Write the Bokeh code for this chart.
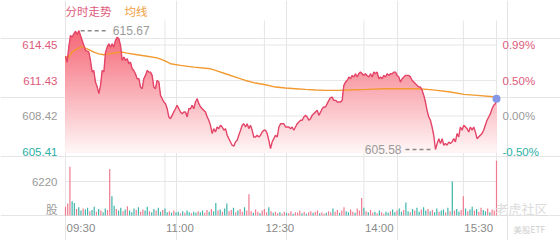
import numpy as np
from bokeh.plotting import figure
from bokeh.models import Range1d
from bokeh.embed import file_html
from bokeh.resources import INLINE
from bokeh.core.properties import value

# ---------------- data ----------------
title_text = "分时走势"
avg_label = "均线"
price_ticks = [614.45, 611.43, 608.42, 605.41]
pct_labels = ["0.99%", "0.50%", "0.00%", "-0.50%"]
tick_side = ["up", "up", "flat", "down"]
vol_ticks = [6220]
vol_unit = "股"
time_ticks = [0, 90, 180, 270, 360]
time_labels = ["09:30", "11:00", "12:30", "14:00", "15:30"]
session_end = 390
high_price = 615.67
low_price = 605.58
watermark = "老虎社区"
watermark_sub = "美股ETF"

price_min = [
    0.0, 1.5, 3.0, 4.5, 6.0, 7.5, 9.1, 10.6, 12.1, 13.6,
    15.1, 16.6, 18.1, 19.6, 21.1, 22.6, 24.1, 25.6, 27.1, 28.7,
    30.2, 31.7, 33.2, 34.7, 36.2, 37.7, 39.2, 40.7, 42.2, 43.7,
    45.2, 46.7, 48.3, 49.8, 51.3, 52.8, 54.3, 55.8, 57.3, 58.8,
    60.3, 61.8, 63.3, 64.8, 66.4, 67.9, 69.4, 70.9, 72.4, 73.9,
    75.4, 76.9, 78.4, 79.9, 81.4, 82.9, 84.5, 86.0, 87.5, 89.0,
    90.5, 92.0, 93.5, 95.0, 96.5, 98.0, 99.5, 101.0, 102.6, 104.1,
    105.6, 107.1, 108.6, 110.1, 111.6, 113.1, 114.6, 116.1, 117.6, 119.1,
    120.7, 122.2, 123.7, 125.2, 126.7, 128.2, 129.7, 131.2,
    132.7, 134.2, 135.7, 137.2, 138.7, 140.3, 141.8, 143.3, 144.8, 146.3,
    147.8, 149.3, 150.8, 152.3, 153.8, 155.3, 156.8, 158.4, 159.9, 161.4,
    162.9, 164.4, 165.9, 167.4, 168.9, 170.4, 171.9, 173.4, 175.0, 176.5,
    178.0, 179.5, 181.0, 182.5, 184.0, 185.5, 187.0, 188.5, 190.0, 191.6,
    193.1, 194.6, 196.1, 197.6, 199.1, 200.6, 202.1, 203.6, 205.1, 206.6,
    208.1, 209.7, 211.2, 212.7, 214.2, 215.7, 217.2, 218.7, 220.2, 221.7,
    223.2, 224.7, 226.2, 227.8, 229.3, 230.8, 232.3, 233.8, 235.3, 236.8,
    238.3, 239.8, 241.3, 242.8, 244.4, 245.9, 247.4, 248.9, 250.4, 251.3,
    251.9, 253.4, 254.9, 256.4, 257.9,
    259.4, 260.9, 262.4, 263.9, 265.4, 266.9, 268.4, 269.9, 271.4, 272.9,
    274.5, 276.0, 277.5, 279.0, 280.5, 282.0, 283.5, 285.0, 286.5, 288.0,
    289.5, 291.0, 292.6, 294.1, 295.6, 297.1, 298.6, 300.1, 301.6, 303.1,
    304.6, 306.1, 307.6, 309.1, 310.6, 312.2, 313.7, 315.2, 316.7, 318.2,
    319.7, 321.2, 322.7, 324.2, 325.7, 327.2, 328.7, 330.2, 331.7, 333.2,
    334.8, 336.3, 337.8, 339.3, 340.8, 342.3, 343.8, 345.3, 346.8, 348.3,
    349.8, 351.3, 352.8, 354.3, 355.8, 357.3, 358.9, 360.4, 361.9, 363.4,
    364.9, 366.4, 367.9, 369.4, 370.9, 372.4, 373.9, 375.4, 376.9, 378.4,
    379.9, 381.4, 383.0, 384.5, 386.0, 387.5, 389.0, 390.0,
]
price_val = [
    613.50, 612.99, 614.27, 615.26, 615.11, 615.40, 615.62, 615.34, 615.67, 615.26,
    614.83, 614.41, 613.99, 613.93, 613.84, 613.14, 612.15, 612.29, 611.30, 610.88,
    610.32, 611.02, 612.29, 612.15, 613.84, 614.27, 614.55, 614.27, 614.55, 614.27,
    614.83, 615.11, 614.97, 614.41, 613.14, 613.42, 613.14, 613.28, 612.86, 613.00,
    612.43, 612.29, 612.01, 611.59, 611.59, 610.88, 610.74, 611.59, 611.87, 612.29,
    612.15, 612.15, 611.87, 610.88, 610.74, 611.44, 611.30, 610.17, 609.89, 609.61,
    609.47, 609.04, 608.34, 608.20, 608.48, 608.76, 609.04, 609.33, 609.04, 608.76,
    608.62, 608.76, 608.76, 608.34, 609.04, 609.04, 609.33, 609.04, 609.61, 609.89,
    609.47, 609.19, 609.04, 608.90, 608.76, 608.34, 608.06, 607.63,
    606.93, 607.35, 607.07, 607.49, 607.35, 607.63, 607.49, 607.21, 607.35, 606.79,
    606.50, 606.22, 605.94, 605.86, 606.22, 606.36, 606.79, 607.21, 607.63, 607.77,
    607.49, 607.77, 607.35, 607.63, 607.21, 606.64, 606.64, 606.79, 606.64, 606.79,
    607.07, 607.21, 607.21, 606.93, 606.36, 605.66, 606.22, 606.50, 606.79, 606.64,
    607.49, 607.77, 607.77, 607.77, 607.49, 607.49, 607.49, 607.35, 607.49, 607.21,
    607.49, 607.77, 607.92, 608.06, 608.06, 608.34, 608.48, 608.34, 608.06, 608.20,
    608.48, 608.62, 608.76, 608.90, 608.48, 608.76, 609.04, 609.19, 609.19, 609.47,
    609.75, 609.98, 610.03, 609.75, 609.75, 609.61, 609.61, 609.61, 609.75, 610.60,
    611.02, 611.30, 611.44, 611.73, 611.59,
    611.87, 611.73, 612.01, 611.73, 612.01, 612.15, 612.01, 611.87, 612.01, 611.87,
    611.73, 612.01, 611.73, 612.15, 612.01, 612.15, 611.59, 611.73, 611.59, 611.87,
    611.73, 612.01, 611.87, 612.01, 612.01, 612.15, 612.15, 611.87, 611.73, 611.30,
    611.59, 611.73, 611.87, 611.87, 611.87, 611.73, 611.44, 611.30, 611.16, 611.02,
    610.88, 610.88, 610.60, 610.17, 609.61, 608.90, 608.34, 608.06, 607.49, 606.79,
    605.58, 606.08, 606.50, 606.08, 606.50, 605.94, 606.08, 605.94, 606.22, 606.08,
    606.22, 606.50, 606.22, 606.93, 606.64, 607.49, 607.21, 607.63, 607.49, 607.35,
    607.07, 607.49, 607.21, 607.49, 607.07, 606.50, 606.64, 606.79, 606.93, 607.21,
    607.63, 608.06, 608.34, 608.62, 609.04, 609.33, 609.47, 609.89,
]

avg_min = [0, 2.1, 6.0, 10.6, 15.1, 19.6, 25.6, 30.2, 34.7, 39.2,
           45.2, 51.3, 55.8, 64.8, 73.9, 82.9, 89.0, 95.0, 104.1, 116.1,
           131.2, 135.7, 144.8, 153.8, 162.9, 171.9, 181.0, 190.0, 199.1, 208.1,
           217.2, 226.2, 235.3, 247.4, 262.4, 272.9, 288.0, 303.1, 318.2, 327.2,
           336.3, 348.3, 360.4, 372.4, 390.0]
avg_val = [613.50, 613.28, 613.84, 614.13, 614.32, 614.13, 613.84, 613.70, 613.62, 613.70,
           613.79, 613.84, 613.76, 613.62, 613.50, 613.36, 613.14, 612.86, 612.72, 612.57,
           612.43, 612.29, 612.01, 611.73, 611.44, 611.22, 611.08, 610.88, 610.80, 610.74,
           610.68, 610.63, 610.60, 610.60, 610.65, 610.68, 610.74, 610.74, 610.74, 610.68,
           610.60, 610.46, 610.26, 610.17, 610.03]

vol_min = list(range(0, 391, 2))
vol_val = [
    1600, 2200, 8900, 2600, 2300, 1200, 1500, 900, 1300, 1100,
    1400, 800, 1000, 1600, 700, 1200, 900, 600, 1300, 1000,
    8500, 3500, 1800, 1200, 900, 1400, 800, 1100, 1700, 900,
    600, 1300, 1000, 1500, 700, 1100, 900, 1600, 800, 600,
    1200, 900, 1400, 700, 1000, 1300, 600, 800, 500, 900,
    600, 700, 400, 800, 500, 900, 600, 400, 700, 500,
    800, 600, 900, 500, 1000, 700, 1200, 800, 2300, 900,
    1100, 700, 1300, 2200, 800, 1000, 1400, 600, 900, 1200,
    700, 1500, 900, 3900, 800, 500, 1100, 700, 400, 900,
    1200, 600, 1500, 800, 500, 700, 400, 600, 300, 700,
    500, 400, 800, 300, 600, 500, 900, 400, 700, 300,
    600, 800, 500, 700, 900, 400, 600, 300, 500, 800,
    600, 1300, 700, 1000, 500, 900, 1500, 800, 600, 1100,
    700, 500, 1300, 900, 3200, 1400, 800, 600, 1000, 500,
    700, 400, 900, 600, 300, 700, 500, 800, 1100, 600,
    900, 1300, 700, 1000, 2400, 800, 600, 1200, 900, 1400,
    700, 1100, 1500, 900, 1200, 800, 1000, 600, 1300, 700,
    900, 1100, 600, 1400, 800, 6200, 900, 1200, 700, 1000,
    3500, 1300, 800, 1100, 1600, 900, 1200, 700, 1400, 1000,
    800, 1300, 600, 1100, 900, 10000,
]
vol_up = [
    1, 1, 1, 0, 0, 1, 0, 0, 1, 0,
    0, 1, 0, 0, 1, 0, 1, 0, 0, 1,
    1, 0, 0, 1, 0, 0, 1, 0, 1, 0,
    0, 0, 1, 0, 1, 1, 0, 0, 1, 0,
    0, 1, 0, 0, 1, 0, 0, 1, 0, 1,
    0, 0, 1, 0, 1, 0, 0, 1, 0, 0,
    1, 0, 0, 1, 1, 0, 1, 0, 0, 1,
    0, 1, 0, 0, 1, 1, 0, 1, 0, 1,
    1, 0, 1, 1, 1, 0, 1, 1, 0, 1,
    1, 1, 0, 1, 0, 1, 1, 0, 1, 1,
    0, 1, 1, 0, 1, 1, 1, 0, 1, 0,
    1, 1, 0, 1, 1, 0, 1, 1, 0, 1,
    1, 0, 1, 1, 0, 1, 1, 0, 0, 1,
    1, 0, 1, 1, 1, 0, 1, 0, 1, 1,
    0, 1, 0, 1, 1, 0, 0, 1, 0, 0,
    1, 0, 0, 1, 0, 0, 1, 0, 1, 0,
    0, 1, 0, 0, 1, 0, 1, 0, 0, 1,
    0, 0, 1, 0, 1, 0, 1, 0, 0, 1,
    1, 0, 1, 0, 0, 1, 0, 1, 1, 0,
    0, 1, 0, 1, 1, 1,
]

# ---------------- layout (pixels) ----------------
W, H = 560, 240
L, R = 65, 496          # session start / end columns
PT, PB = 20, 152        # price panel top / bottom
VB = 215                # volume baseline row
Y_TOP_TICK, Y_BOT_TICK = 44.5, 151.0
Y_VOL_TICK = 181.0

mpp = session_end / (R - L)
ppp = (price_ticks[0] - price_ticks[-1]) / (Y_BOT_TICK - Y_TOP_TICK)
vpp = vol_ticks[0] / (VB - Y_VOL_TICK)


def xm(px):
    return (px - L) * mpp


def yp(py):
    return price_ticks[0] - (py - Y_TOP_TICK) * ppp


p = figure(width=W, height=H, x_range=Range1d(xm(0), xm(W)),
           y_range=Range1d(yp(H), yp(0)), min_border=0, title=None,
           toolbar_location=None, output_backend="svg",
           x_axis_location=None, y_axis_location=None,
           outline_line_color=None, background_fill_color="white",
           border_fill_color="white")
p.extra_y_ranges = {"vol": Range1d(-(H - VB) * vpp, VB * vpp)}

GRID = "#e6e6e6"
RED = "#dd5a7a"
TEAL = "#2aafa3"
GRAY = "#9a9a9a"
NUM_FONT = value("Liberation Sans")
CJK_FONT = value("Noto Sans CJK SC")

# grid
vx = time_ticks + [session_end]
p.segment(x0=vx, x1=vx, y0=yp(PT), y1=yp(VB + 1), line_color=GRID, line_width=1)
p.segment(x0=0, x1=session_end, y0=price_ticks, y1=price_ticks, line_color=GRID, line_width=1)
p.segment(x0=0, x1=session_end, y0=[vol_ticks[0], 0], y1=[vol_ticks[0], 0],
          line_color=GRID, line_width=1, y_range_name="vol")

# gradient area under the price line (layered bands)
pm = np.array(price_min)
pv = np.array(price_val)
base = yp(PB)
top = yp(PT)
N = 50
edges = np.linspace(base, top, N + 1)
top_rgb = np.array([244, 92, 108])
bot_rgb = np.array([255, 248, 248])
for k in range(N - 1, -1, -1):
    hi = edges[k + 1]
    t = (hi - base) / (top - base)
    c = np.round(bot_rgb + (top_rgb - bot_rgb) * t).astype(int)
    col = "#%02x%02x%02x" % tuple(c)
    p.varea(x=pm, y1=base, y2=np.minimum(pv, hi), fill_color=col, fill_alpha=1)

# lines
p.line(avg_min, avg_val, line_color="#f29a30", line_width=1.4)
p.line(pm, pv, line_color="#e4466a", line_width=1.4)

# high / low markers
i_hi = int(np.argmax(pv))
i_lo = int(np.argmin(pv))
m_hi, m_lo = pm[i_hi], pm[i_lo]
p.segment(x0=[m_hi + 1.8 * mpp], x1=[m_hi + 29 * mpp], y0=[high_price], y1=[high_price],
          line_color="#8a8a8a", line_width=1.5, line_dash="4 3")
p.text(x=[m_hi + 34 * mpp], y=[high_price], text=[f"{high_price:.2f}"], text_font=NUM_FONT,
       text_font_size="12px", text_color=GRAY, text_align="left", text_baseline="middle")
p.segment(x0=[m_lo - 30 * mpp], x1=[m_lo - 2 * mpp], y0=[low_price], y1=[low_price],
          line_color="#8a8a8a", line_width=1.5, line_dash="4 3")
p.text(x=[m_lo - 34 * mpp], y=[low_price], text=[f"{low_price:.2f}"], text_font=NUM_FONT,
       text_font_size="12px", text_color=GRAY, text_align="right", text_baseline="middle")

# last point
p.scatter(x=[pm[-1]], y=[pv[-1]], size=8, fill_color="#8797e8", line_color=None)

# volume bars
vcols = ["#ef7b90" if u else "#3cb6aa" for u in vol_up]
p.segment(x0=vol_min, x1=vol_min, y0=0, y1=vol_val, line_color=vcols, line_width=1.2,
          y_range_name="vol")

# tick labels
side_col = {"up": RED, "flat": GRAY, "down": TEAL}
cols = [side_col[s] for s in tick_side]
p.text(x=xm(57), y=price_ticks, text=[f"{v:.2f}" for v in price_ticks], text_font=NUM_FONT,
       text_font_size="11.5px", text_color=cols, text_align="right", text_baseline="middle")
p.text(x=xm(502), y=price_ticks, text=pct_labels, text_font=NUM_FONT,
       text_font_size="11.5px", text_color=cols, text_align="left", text_baseline="middle")
p.text(x=xm(57), y=vol_ticks, text=[str(v) for v in vol_ticks], text_font=NUM_FONT,
       text_font_size="11.5px", text_color=GRAY, text_align="right", text_baseline="middle",
       y_range_name="vol")
p.text(x=[xm(57)], y=[0], text=[vol_unit], text_font=CJK_FONT, y_offset=1,
       text_font_size="11.5px", text_color=GRAY, text_align="right", text_baseline="bottom",
       y_range_name="vol")
p.text(x=time_ticks, y=yp(227), text=time_labels, text_font=NUM_FONT, x_offset=1,
       text_font_size="11.5px", text_color="#8a8a8a", text_align="left", text_baseline="middle")

# header
p.text(x=[xm(65)], y=[yp(10)], text=[title_text], text_font=CJK_FONT, text_font_size="11.5px",
       text_color="#df5a7c", text_align="left", text_baseline="middle")
p.text(x=[xm(124)], y=[yp(10)], text=[avg_label], text_font=CJK_FONT, text_font_size="11.5px",
       text_color="#f0a042", text_align="left", text_baseline="middle")

# watermark
p.text(x=[xm(495)], y=[yp(208)], text=[watermark], text_font=CJK_FONT, text_font_size="13px",
       text_color="#dcdcdc", text_align="left", text_baseline="middle")
p.text(x=[xm(513)], y=[yp(228)], text=[watermark_sub], text_font=CJK_FONT, text_font_size="8.5px",
       text_color="#cfcfcf", text_align="left", text_baseline="middle")

open("out.html", "w").write(file_html(p, INLINE))
